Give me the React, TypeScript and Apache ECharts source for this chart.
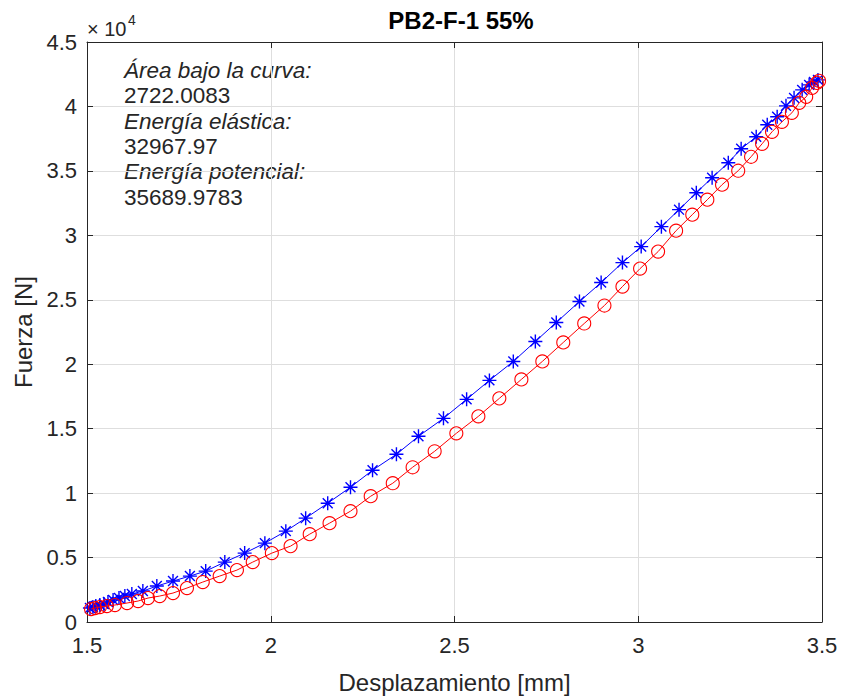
import React, { useEffect, useRef } from "react";
import * as echarts from "echarts";

// Loading curve (blue, asterisk markers)
const loadX = [1.508, 1.516, 1.524, 1.535, 1.546, 1.557, 1.571, 1.587, 1.603, 1.622, 1.652, 1.69, 1.734, 1.78, 1.823, 1.875, 1.929, 1.984, 2.041, 2.095, 2.155, 2.217, 2.277, 2.342, 2.402, 2.47, 2.533, 2.595, 2.66, 2.72, 2.777, 2.84, 2.899, 2.957, 3.008, 3.063, 3.111, 3.158, 3.201, 3.245, 3.28, 3.321, 3.351, 3.378, 3.402, 3.424, 3.446, 3.465, 3.478, 3.489];
const loadY = [1084, 1162, 1239, 1317, 1394, 1549, 1704, 1859, 2014, 2169, 2401, 2789, 3176, 3563, 3950, 4648, 5345, 6119, 7049, 8056, 9218, 10457, 11774, 13013, 14408, 15802, 17274, 18745, 20217, 21766, 23238, 24864, 26336, 27886, 29125, 30674, 31991, 33308, 34470, 35631, 36716, 37645, 38575, 39195, 40046, 40666, 41286, 41673, 41905, 42060];

// Unloading curve (red, circle markers)
const unloadX = [1.511, 1.522, 1.535, 1.554, 1.576, 1.609, 1.639, 1.666, 1.698, 1.734, 1.772, 1.815, 1.861, 1.908, 1.951, 2.003, 2.054, 2.106, 2.16, 2.217, 2.272, 2.332, 2.386, 2.446, 2.505, 2.565, 2.622, 2.682, 2.739, 2.796, 2.853, 2.908, 2.957, 3.005, 3.054, 3.103, 3.147, 3.188, 3.228, 3.272, 3.307, 3.337, 3.364, 3.391, 3.418, 3.438, 3.457, 3.473, 3.486, 3.492];
const unloadY = [1007, 1084, 1162, 1239, 1317, 1472, 1627, 1859, 2014, 2246, 2634, 3098, 3563, 4028, 4648, 5345, 5887, 6816, 7669, 8598, 9760, 10767, 12006, 13246, 14640, 15957, 17351, 18823, 20217, 21689, 23161, 24555, 26026, 27421, 28738, 30364, 31603, 32765, 33927, 35012, 36096, 37103, 38033, 38807, 39504, 40279, 40744, 41441, 41828, 41983];

const annotationLabels = ["Área bajo la curva:", "Energía elástica:", "Energía potencial:"];
const annotationValues = ["2722.0083", "32967.97", "35689.9783"];

const TITLE = "PB2-F-1 55%";
const X_LABEL = "Desplazamiento [mm]";
const Y_LABEL = "Fuerza [N]";

const FONT = "'Liberation Sans', Arial, Helvetica, sans-serif";
const TXT = "#262626";

export default function App() {
  const ref = useRef<HTMLDivElement>(null);
  useEffect(() => {
    document.body.style.margin = "0";
    if (!ref.current) return;
    const chart = echarts.init(ref.current, undefined, { renderer: "svg" });
    const gridL = 87, gridT = 42, gridR = 20, gridB = 76;

    const annot: any[] = [];
    annotationLabels.forEach((lab, i) => {
      annot.push({
        type: "text", left: 124, top: 59 + i * 50.6,
        style: { text: lab, font: `italic 22.5px ${FONT}`, fill: TXT },
      });
      annot.push({
        type: "text", left: 124, top: 59 + i * 50.6 + 25.3,
        style: { text: annotationValues[i], font: `22.5px ${FONT}`, fill: TXT },
      });
    });

    const starPath = "path://M12,0 L12,24 M0,12 L24,12 M3.5,3.5 L20.5,20.5 M3.5,20.5 L20.5,3.5";

    const axisCommon = {
      axisLine: { show: true, onZero: false, lineStyle: { color: TXT, width: 1 } },
      axisTick: { show: true, inside: true, length: 6, lineStyle: { color: TXT } },
    };

    chart.setOption({
      animation: false,
      backgroundColor: "#ffffff",
      title: {
        text: TITLE, left: 456, top: 3, textAlign: "center",
        textStyle: { fontFamily: FONT, fontWeight: "bold", fontSize: 24, color: "#000" },
      },
      grid: { left: gridL, top: gridT, right: gridR, bottom: gridB, containLabel: false },
      xAxis: [
        {
          type: "value", min: 1.5, max: 3.5, interval: 0.5, position: "bottom",
          ...axisCommon,
          axisLabel: { color: TXT, fontFamily: FONT, fontSize: 22, margin: 12, formatter: (v: number) => String(v) },
          splitLine: { show: true, lineStyle: { color: "#dedede", width: 1 } },
          name: X_LABEL, nameLocation: "middle", nameGap: 48,
          nameTextStyle: { color: TXT, fontFamily: FONT, fontSize: 24 },
        },
        {
          type: "value", min: 1.5, max: 3.5, interval: 0.5, position: "top",
          ...axisCommon, axisLabel: { show: false }, splitLine: { show: false },
        },
      ],
      yAxis: [
        {
          type: "value", min: 0, max: 45000, interval: 5000, position: "left",
          ...axisCommon,
          axisLabel: { color: TXT, fontFamily: FONT, fontSize: 22, margin: 10, formatter: (v: number) => String(v / 10000) },
          splitLine: { show: true, lineStyle: { color: "#dedede", width: 1 } },
          name: Y_LABEL, nameLocation: "middle", nameGap: 52, nameRotate: 90,
          nameTextStyle: { color: TXT, fontFamily: FONT, fontSize: 24 },
        },
        {
          type: "value", min: 0, max: 45000, interval: 5000, position: "right",
          ...axisCommon, axisLabel: { show: false }, splitLine: { show: false },
        },
      ],
      graphic: [
        {
          type: "text", left: 87, top: 19,
          style: { text: "× 10", font: `20px ${FONT}`, fill: TXT },
        },
        {
          type: "text", left: 128, top: 13,
          style: { text: "4", font: `14px ${FONT}`, fill: TXT },
        },
        ...annot,
      ],
      series: [
        {
          type: "line", xAxisIndex: 0, yAxisIndex: 0,
          data: loadX.map((x, i) => [x, loadY[i]]),
          symbol: starPath, symbolSize: 14, symbolKeepAspect: true, showSymbol: true,
          lineStyle: { color: "#0000ff", width: 1 },
          itemStyle: { color: "#0000ff", borderColor: "#0000ff", borderWidth: 1.4 },
          emphasis: { disabled: true }, z: 2,
        },
        {
          type: "line", xAxisIndex: 0, yAxisIndex: 0,
          data: unloadX.map((x, i) => [x, unloadY[i]]),
          symbol: "circle", symbolSize: 13, showSymbol: true,
          lineStyle: { color: "#ff0000", width: 1 },
          itemStyle: { color: "rgba(0,0,0,0)", borderColor: "#ff0000", borderWidth: 1.1 },
          emphasis: { disabled: true }, z: 3,
        },
      ],
    });
    return () => chart.dispose();
  }, []);
  return <div ref={ref} style={{ width: 842, height: 699 }} />;
}
